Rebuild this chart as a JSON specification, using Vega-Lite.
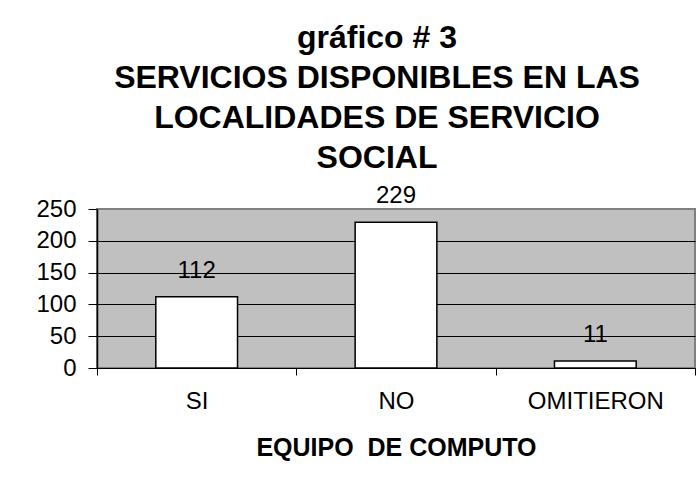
{
  "$schema": "https://vega.github.io/schema/vega-lite/v6.json",
  "width": 598,
  "height": 159,
  "autosize": "none",
  "padding": {"left": 97, "top": 209, "right": 4, "bottom": 127},
  "background": "white",
  "config": {
    "font": "Liberation Sans",
    "view": {"fill": "#C0C0C0", "stroke": "#808080", "strokeWidth": 2}
  },
  "title": {
    "text": ["gráfico # 3", "SERVICIOS DISPONIBLES EN LAS", "LOCALIDADES DE SERVICIO", "SOCIAL"],
    "font": "Liberation Sans",
    "fontSize": 32,
    "fontWeight": "bold",
    "color": "black",
    "lineHeight": 40,
    "anchor": "middle",
    "dx": -19,
    "offset": 9
  },
  "data": {
    "values": [
      {"categoria": "SI", "cantidad": 112},
      {"categoria": "NO", "cantidad": 229},
      {"categoria": "OMITIERON", "cantidad": 11}
    ]
  },
  "encoding": {
    "x": {
      "field": "categoria",
      "type": "nominal",
      "sort": null,
      "scale": {"paddingInner": 0, "paddingOuter": 0},
      "axis": {
        "title": "EQUIPO\u00a0 DE COMPUTO",
        "labelAngle": 0,
        "labelFont": "Liberation Sans",
        "labelFontSize": 24,
        "labelColor": "black",
        "labelPadding": 14,
        "tickBand": "extent",
        "tickSize": 7,
        "tickColor": "black",
        "domainColor": "black",
        "domainWidth": 1,
        "grid": false,
        "titleFont": "Liberation Sans",
        "titleFontSize": 25,
        "titleFontWeight": "bold",
        "titleColor": "black",
        "titlePadding": 22
      }
    },
    "y": {
      "field": "cantidad",
      "type": "quantitative",
      "scale": {"domain": [0, 250], "nice": false},
      "axis": {
        "title": null,
        "values": [0, 50, 100, 150, 200, 250],
        "labelFont": "Liberation Sans",
        "labelFontSize": 24,
        "labelColor": "black",
        "labelPadding": 12,
        "tickSize": 9,
        "tickColor": "black",
        "domainColor": "black",
        "domainWidth": 1.5,
        "grid": true,
        "gridColor": {"condition": {"test": "datum.value == 250", "value": "#808080"}, "value": "#000000"},
        "gridWidth": 1,
        "gridOpacity": 1
      }
    }
  },
  "layer": [
    {
      "mark": {"type": "bar", "fill": "white", "stroke": "black", "strokeWidth": 1.5, "width": {"band": 0.41}}
    },
    {
      "mark": {"type": "text", "dy": -19, "baseline": "alphabetic", "align": "center", "font": "Liberation Sans", "fontSize": 24, "color": "black"},
      "encoding": {"text": {"field": "cantidad", "type": "quantitative"}}
    }
  ]
}
